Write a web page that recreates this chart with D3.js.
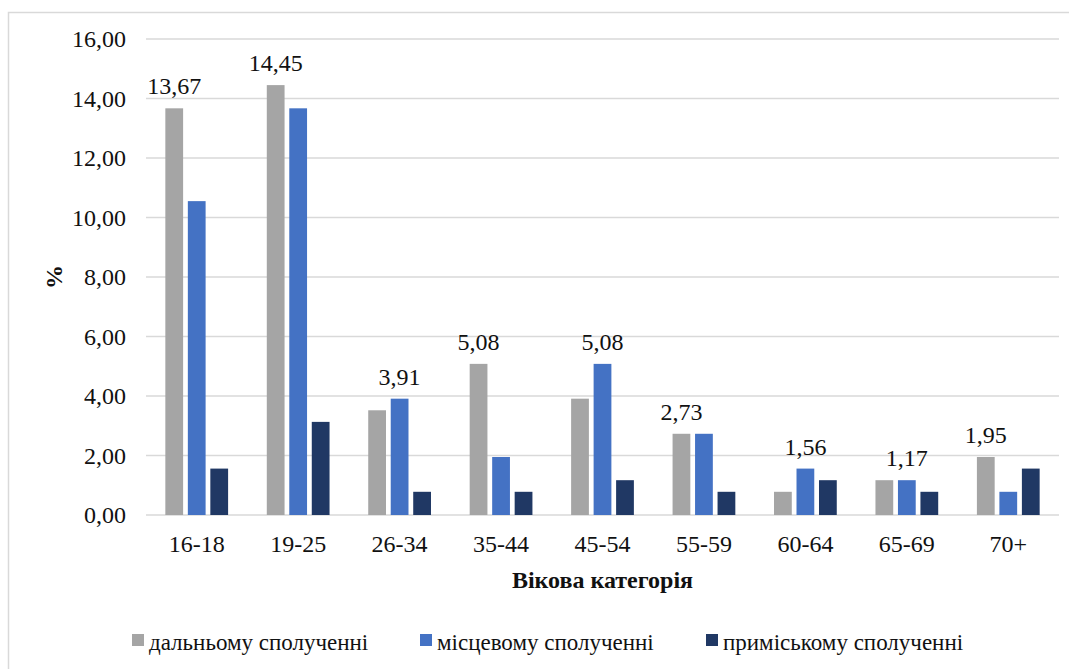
<!DOCTYPE html>
<html>
<head>
<meta charset="utf-8">
<script src="https://cdn.jsdelivr.net/npm/d3@7"></script>
</head>
<body style="margin:0">
<svg id="chart" width="1069" height="669" font-family="Liberation Serif"></svg>
<script>
// Age groups on the x axis
const categories = ["16-18", "19-25", "26-34", "35-44", "45-54", "55-59", "60-64", "65-69", "70+"];

// Series (share of respondents, %)
const seriesNames = ["дальньому сполученні", "місцевому сполученні", "приміському сполученні"];
const longDistance = [13.67, 14.45, 3.52, 5.08, 3.91, 2.73, 0.78, 1.17, 1.95];
const local        = [10.55, 13.67, 3.91, 1.95, 5.08, 2.73, 1.56, 1.17, 0.78];
const suburban     = [1.56, 3.13, 0.78, 0.78, 1.17, 0.78, 1.17, 0.78, 1.56];

// Which series carries the value label in each age group
const labelledSeries = [0, 0, 1, 0, 1, 0, 1, 1, 0];

const yTicks = [0, 2, 4, 6, 8, 10, 12, 14, 16];
const colors = ["#A5A5A5", "#4472C4", "#203864"];

const seriesValues = [longDistance, local, suburban];

const FONT = "Liberation Serif";
const INK = "#111";

const svg = d3.select("#chart");
const W = 1069, H = 669;
const plot = { left: 146, right: 1059, top: 39, bottom: 515 };

// Outer frame
svg.append("rect")
  .attr("x", 8.5).attr("y", 12.5)
  .attr("width", W).attr("height", H)
  .attr("fill", "none").attr("stroke", "#D9D9D9").attr("stroke-width", 1.5);

const x = d3.scaleBand().domain(categories).range([plot.left, plot.right]).padding(0);
const xs = d3.scaleBand().domain(d3.range(seriesNames.length))
  .range([0, x.bandwidth()]).paddingInner(0.21).paddingOuter(0.86);
const y = d3.scaleLinear().domain([0, 16]).range([plot.bottom, plot.top]);

const fmt = v => d3.format(".2f")(v).replace(".", ",");

// Gridlines
svg.append("g")
  .selectAll("line").data(yTicks).join("line")
  .attr("x1", plot.left).attr("x2", plot.right)
  .attr("y1", d => y(d)).attr("y2", d => y(d))
  .attr("stroke", "#D9D9D9").attr("stroke-width", 1.5);

// Y axis tick labels
const yAxis = d3.axisLeft(y).tickValues(yTicks).tickFormat(fmt).tickSize(0).tickPadding(20);
const gy = svg.append("g").attr("transform", `translate(${plot.left},0)`).call(yAxis)
  .attr("font-family", FONT).attr("font-size", 24);
gy.select(".domain").remove();
gy.selectAll("text").attr("font-family", FONT).attr("font-size", 24).attr("fill", INK);

// X axis labels
const xAxis = d3.axisBottom(x).tickSize(0).tickPadding(20);
const gx = svg.append("g").attr("transform", `translate(0,${plot.bottom})`).call(xAxis)
  .attr("font-family", FONT).attr("font-size", 24);
gx.select(".domain").remove();
gx.selectAll("text").attr("font-family", FONT).attr("font-size", 24).attr("fill", INK);

// Bars
const groups = svg.append("g").selectAll("g").data(categories).join("g")
  .attr("transform", d => `translate(${x(d)},0)`);

groups.selectAll("rect")
  .data((c, i) => seriesValues.map((vals, s) => ({ s, v: vals[i] })))
  .join("rect")
  .attr("x", d => xs(d.s))
  .attr("width", xs.bandwidth())
  .attr("y", d => y(d.v))
  .attr("height", d => y(0) - y(d.v))
  .attr("fill", d => colors[d.s]);

// Value labels
groups.append("text")
  .attr("x", (c, i) => xs(labelledSeries[i]) + xs.bandwidth() / 2)
  .attr("y", (c, i) => y(seriesValues[labelledSeries[i]][i]) - 14)
  .attr("text-anchor", "middle")
  .attr("font-family", FONT).attr("font-size", 24).attr("fill", INK)
  .text((c, i) => fmt(seriesValues[labelledSeries[i]][i]));

// Axis titles
svg.append("text")
  .attr("x", (plot.left + plot.right) / 2).attr("y", 588)
  .attr("text-anchor", "middle")
  .attr("font-family", FONT).attr("font-size", 24).attr("font-weight", "bold").attr("fill", INK)
  .text("Вікова категорія");

svg.append("text")
  .attr("transform", `translate(62,${(plot.top + plot.bottom) / 2}) rotate(-90)`)
  .attr("text-anchor", "middle")
  .attr("font-family", FONT).attr("font-size", 24).attr("font-weight", "bold").attr("fill", INK)
  .text("%");

// Legend
const legendX = [132, 420, 706];
const legend = svg.append("g").selectAll("g").data(seriesNames).join("g")
  .attr("transform", (d, i) => `translate(${legendX[i]},634)`);
legend.append("rect").attr("width", 12).attr("height", 12).attr("fill", (d, i) => colors[i]);
legend.append("text")
  .attr("x", 17).attr("y", 16)
  .attr("font-family", FONT).attr("font-size", 23).attr("fill", INK)
  .text(d => d);
</script>
</body>
</html>
